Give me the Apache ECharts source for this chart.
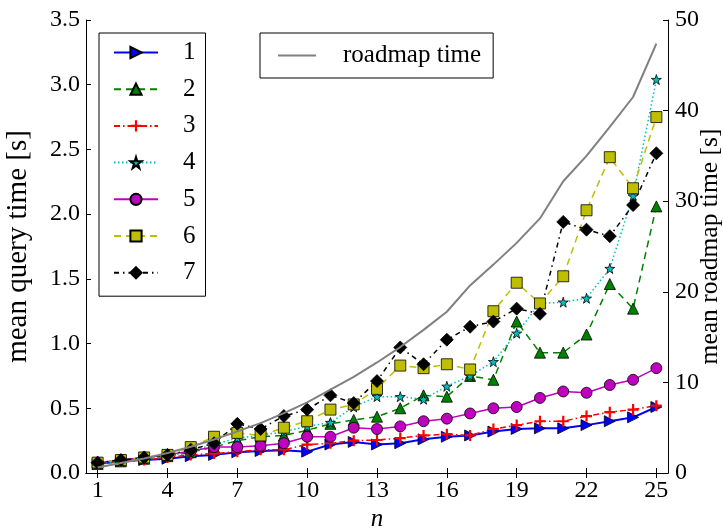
<!DOCTYPE html>
<html>
<head>
<meta charset="utf-8">
<script src="https://cdn.jsdelivr.net/npm/echarts@6/dist/echarts.min.js"></script>
<style>
html, body { margin: 0; padding: 0; background: #fff; }
#chart { width: 723px; height: 530px; }
</style>
</head>
<body>
<div id="chart"></div>
<script>
// n values (x axis)
const ns = [1, 2, 3, 4, 5, 6, 7, 8, 9, 10, 11, 12, 13, 14, 15, 16, 17, 18, 19, 20, 21, 22, 23, 24, 25]
const xTicks = [1, 4, 7, 10, 13, 16, 19, 22, 25]

// mean query time [s] per configuration
const q1 = [0.07, 0.09, 0.10, 0.11, 0.13, 0.14, 0.16, 0.17, 0.175, 0.165, 0.22, 0.24, 0.22, 0.23, 0.26, 0.28, 0.29, 0.32, 0.34, 0.345, 0.345, 0.37, 0.40, 0.43, 0.51]
const q2 = [0.07, 0.09, 0.11, 0.13, 0.16, 0.20, 0.25, 0.28, 0.29, 0.33, 0.38, 0.41, 0.435, 0.50, 0.60, 0.59, 0.75, 0.72, 1.17, 0.93, 0.93, 1.07, 1.46, 1.27, 2.06]
const q3 = [0.07, 0.09, 0.10, 0.12, 0.14, 0.15, 0.165, 0.18, 0.18, 0.22, 0.23, 0.25, 0.255, 0.27, 0.29, 0.30, 0.29, 0.34, 0.37, 0.40, 0.40, 0.44, 0.47, 0.49, 0.52]
const q4 = [0.07, 0.09, 0.11, 0.13, 0.17, 0.22, 0.27, 0.29, 0.32, 0.36, 0.39, 0.51, 0.59, 0.59, 0.57, 0.67, 0.75, 0.86, 1.08, 1.31, 1.32, 1.35, 1.58, 2.14, 3.04]
const q5 = [0.08, 0.10, 0.12, 0.14, 0.17, 0.20, 0.20, 0.21, 0.23, 0.28, 0.28, 0.35, 0.34, 0.36, 0.40, 0.42, 0.46, 0.50, 0.51, 0.58, 0.63, 0.62, 0.68, 0.72, 0.81]
const q6 = [0.08, 0.10, 0.12, 0.14, 0.20, 0.28, 0.31, 0.29, 0.35, 0.40, 0.49, 0.53, 0.65, 0.83, 0.81, 0.84, 0.80, 1.25, 1.47, 1.31, 1.52, 2.03, 2.44, 2.20, 2.75]
const q7 = [0.08, 0.10, 0.12, 0.14, 0.18, 0.23, 0.38, 0.34, 0.44, 0.49, 0.60, 0.54, 0.71, 0.97, 0.84, 1.03, 1.13, 1.17, 1.27, 1.23, 1.94, 1.88, 1.83, 2.07, 2.47]

// mean roadmap time [s] (right axis)
const roadmap = [0.6, 1.1, 1.6, 2.2, 2.9, 3.7, 4.6, 5.5, 6.6, 7.8, 9.2, 10.6, 12.2, 13.9, 15.8, 17.8, 20.7, 23.0, 25.4, 28.1, 32.2, 35.0, 38.2, 41.5, 47.4]

const font = 'Liberation Serif'
const star = 'path://M50,0L61,35L98,35L68,57L79,91L50,70L21,91L32,57L2,35L39,35Z'
const plus = 'path://M4,0H6V4H10V6H6V10H4V6H0V4H4Z'

const pairs = arr => ns.map((n, i) => [n, arr[i]])

const mk = (name, arr, color, symbol, size, lineType, extra) => Object.assign({
	name: name,
	type: 'line',
	data: pairs(arr),
	symbol: symbol,
	symbolSize: size,
	showAllSymbol: true,
	lineStyle: { color: color, width: 1.5, type: lineType },
	itemStyle: { color: color, borderColor: '#000', borderWidth: 0.8 },
	emphasis: { disabled: true },
	animation: false,
}, extra || {})

const axisLine = { show: true, lineStyle: { color: '#000', width: 1 } }
const tick = { show: true, inside: true, length: 5, lineStyle: { color: '#000' } }

const chart = echarts.init(document.getElementById('chart'))
chart.setOption({
	backgroundColor: '#fff',
	animation: false,
	textStyle: { fontFamily: font },
	grid: { left: 86, right: 55, top: 20, bottom: 57, outerBoundsMode: 'none', containLabel: false },
	legend: [
		{
			data: ['1', '2', '3', '4', '5', '6', '7'],
			orient: 'vertical',
			left: 99,
			top: 33,
			padding: [7, 10, 11, 14],
			itemWidth: 44,
			itemHeight: 14,
			itemGap: 11.7,
			borderColor: '#000',
			borderWidth: 1,
			textStyle: { fontFamily: font, fontSize: 25, lineHeight: 24, color: '#000', padding: [0, 0, 0, 20] },
		},
		{
			data: [{ name: 'roadmap time', itemStyle: { opacity: 0 } }],
			left: 260,
			top: 33,
			padding: [10, 12, 10, 17],
			itemWidth: 38,
			itemHeight: 14,
			borderColor: '#000',
			borderWidth: 1,
			textStyle: { fontFamily: font, fontSize: 25, lineHeight: 24, color: '#000', padding: [0, 0, 0, 22] },
		},
	],
	xAxis: [
		{
			type: 'value',
			min: 0.5,
			max: 25.5,
			name: 'n',
			nameLocation: 'middle',
			nameGap: 34,
			nameMoveOverlap: false,
			nameTextStyle: { fontFamily: font, fontSize: 25, fontStyle: 'italic', color: '#000' },
			axisLine: axisLine,
			axisTick: Object.assign({ customValues: xTicks }, tick),
			axisLabel: { customValues: xTicks, fontFamily: font, fontSize: 24, color: '#000', margin: 6 },
			splitLine: { show: false },
		},
		{
			type: 'value',
			position: 'top',
			min: 0.5,
			max: 25.5,
			axisLine: axisLine,
			axisTick: Object.assign({ customValues: xTicks }, tick),
			axisLabel: { show: false, customValues: xTicks },
			splitLine: { show: false },
		},
	],
	yAxis: [
		{
			type: 'value',
			min: 0,
			max: 3.5,
			interval: 0.5,
			name: 'mean query time [s]',
			nameLocation: 'middle',
			nameGap: 53,
			nameRotate: 90,
			nameMoveOverlap: false,
			nameTextStyle: { fontFamily: font, fontSize: 29, color: '#000' },
			axisLine: axisLine,
			axisTick: tick,
			axisLabel: { fontFamily: font, fontSize: 24, color: '#000', margin: 6, formatter: v => v.toFixed(1) },
			splitLine: { show: false },
		},
		{
			type: 'value',
			min: 0,
			max: 50,
			interval: 10,
			name: 'mean roadmap time [s]',
			nameLocation: 'middle',
			nameGap: 29,
			nameRotate: 90,
			nameMoveOverlap: false,
			nameTextStyle: { fontFamily: font, fontSize: 25.5, color: '#000' },
			axisLine: axisLine,
			axisTick: tick,
			axisLabel: { fontFamily: font, fontSize: 24, color: '#000', margin: 7 },
			splitLine: { show: false },
		},
	],
	series: [
		mk('1', q1, '#0000ff', 'triangle', 11, 'solid', { symbolRotate: -90, lineStyle: { color: '#0000ff', width: 2, type: 'solid' } }),
		mk('2', q2, '#008000', 'triangle', 11, [7, 5]),
		mk('3', q3, '#ff0000', plus, 11, [6, 3, 1.5, 3], { itemStyle: { color: '#ff0000', borderWidth: 0 } }),
		mk('4', q4, '#00bfbf', star, 10, [1.5, 2.5]),
		mk('5', q5, '#bf00bf', 'circle', 11, 'solid'),
		mk('6', q6, '#bfbf00', 'rect', 11, [7, 5]),
		mk('7', q7, '#000000', 'diamond', 13, [5, 4, 1.5, 4]),
		{
			name: 'roadmap time',
			type: 'line',
			yAxisIndex: 1,
			data: pairs(roadmap),
			symbol: 'none',
			lineStyle: { color: '#808080', width: 2 },
			itemStyle: { color: '#808080' },
			emphasis: { disabled: true },
			z: 5,
			animation: false,
		},
	],
})

window.addEventListener('resize', () => {
	if (chart) chart.resize()
})
</script>
</body>
</html>
